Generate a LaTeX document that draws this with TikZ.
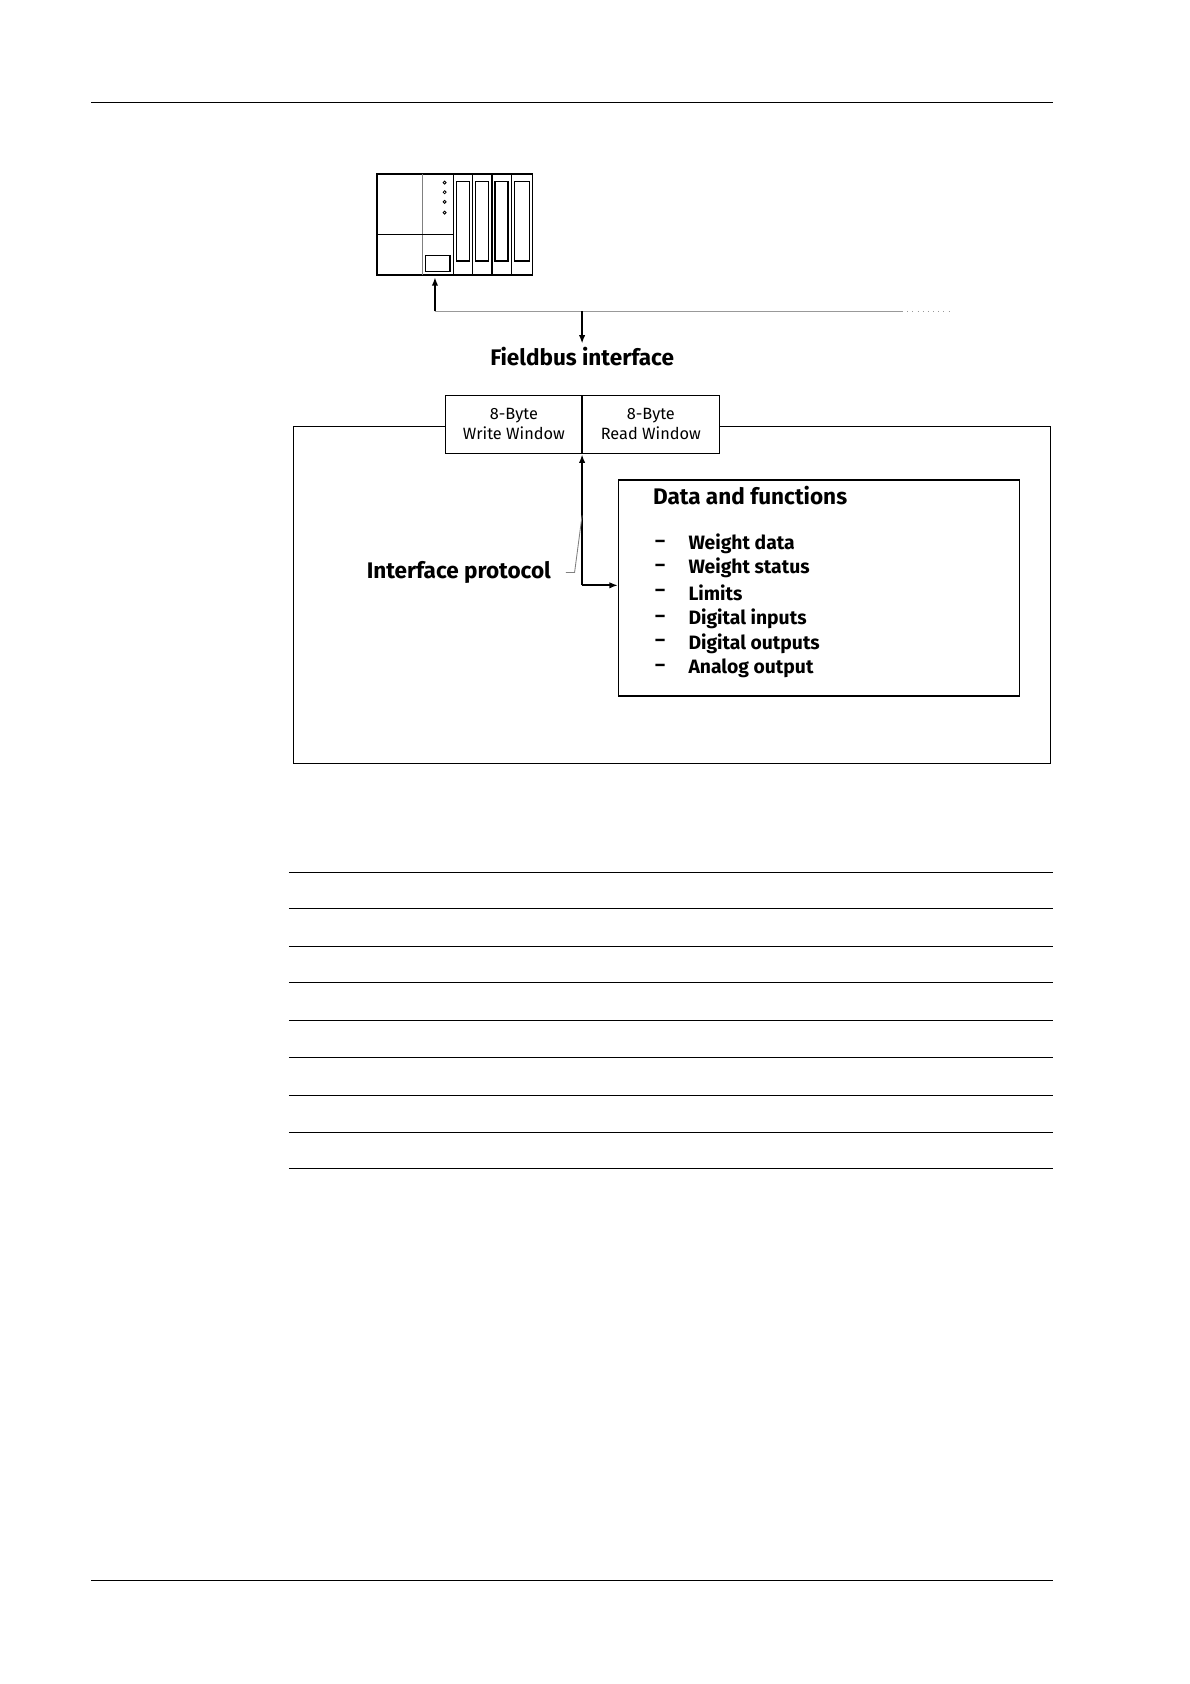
\documentclass[tikz,border=0pt]{standalone}
\usepackage{fontspec}
\setmainfont{Fira Sans}
\begin{document}
\begin{tikzpicture}[x=0.5pt,y=-0.5pt,
  ln/.style={line width=0.6pt},
  thin/.style={line width=0.4pt},
  arr/.style={line width=0.9pt,-{Latex[length=4pt,width=3pt]}},
  big/.style={font=\fontsize{10.5}{12}\selectfont\bfseries},
  item/.style={font=\fontsize{9}{11}\selectfont\bfseries,anchor=west},
  small/.style={font=\fontsize{7.6}{9.5}\selectfont,align=center}]
\usetikzlibrary{arrows.meta}
\useasboundingbox (0,0) rectangle (1108,1568);
\draw[thin] (85,95) -- (980,95);
\draw[thin] (85,1472) -- (980,1472);
% PLC
\draw[ln] (351,162) rectangle (496,256);
\draw[thin,gray] (393,162) -- (393,256);
\draw[thin] (351,218) -- (422,218);
\foreach \a/\b in {422/440,440/458,458/476,476/496}{
  \draw[ln] (\a,162) rectangle (\b,256);
  \draw[ln] (\a+3,169) rectangle (\b-3,243);}
\draw[ln] (396,238) rectangle (419,253);
\foreach \y in {170,179,188,198} \draw[thin] (414,\y) circle (1.4);
% bus
\coordinate (bl) at (405,290); \coordinate (bm) at (542,290);
\coordinate (plc) at (405,258); \coordinate (fb) at (542,320);
\draw[thin,gray!80] (bl) -- (840,290);
\draw[thin,gray!80,dotted] (840,290) -- (885,290);
\draw[arr] (bl) -- (plc);
\draw[arr] (bm) -- (fb);
\node[big] (fbt) at (542,332) {Fieldbus interface};
% outer box
\draw[ln] (273,397) rectangle (978,711);
\node[draw,ln,fill=white,minimum width=63.5pt,minimum height=27pt,small,inner sep=0] (ww) at (478.5,395) {8-Byte\\Write Window};
\node[draw,ln,fill=white,minimum width=64pt,minimum height=27pt,small,inner sep=0] (rw) at (606,395) {8-Byte\\Read Window};
% data box
\node[draw,ln,minimum width=186.5pt,minimum height=100.5pt] (db) at (762.5,547.5) {};
\node[big,anchor=west] at (601,461) {Data and functions};
\foreach \y/\t in {506/Weight data,529/Weight status,552/Limits,576/Digital inputs,599/Digital outputs,622/Analog output}{
  \node[item] at (603,\y) {–};
  \node[item] at (634,\y) {\t};}
\coordinate (j) at (542,545);
\draw[arr] (j) -- (542,423);
\draw[arr] (j) -- (db.west|-j);
\node[big,anchor=east] (ip) at (520,533) {Interface protocol};
\draw[thin,gray] (527,533) -- (535,533) -- (542,480);
% table
\foreach \y in {812,846,881,915,950,985,1020,1054,1088} \draw[thin] (269,\y) -- (980,\y);
\end{tikzpicture}
\end{document}
